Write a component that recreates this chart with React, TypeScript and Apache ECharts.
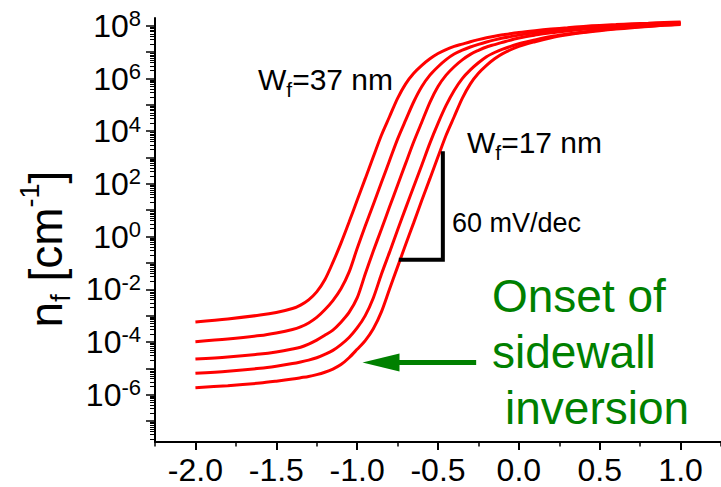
import React, { useEffect, useRef } from "react";
import * as echarts from "echarts";

// Gate voltage samples (V) shared by all curves
const gateVoltage = [
  -2.0, -1.8, -1.6, -1.5, -1.4, -1.35, -1.3, -1.25, -1.2, -1.15, -1.1, -1.05,
  -1.0, -0.95, -0.9, -0.85, -0.8, -0.75, -0.7, -0.65, -0.6, -0.55, -0.5, -0.45,
  -0.4, -0.35, -0.3, -0.25, -0.2, -0.15, -0.1, 0.0, 0.1, 0.2, 0.3, 0.4, 0.5,
  0.6, 0.7, 0.8, 0.9, 1.0,
];

// log10 of the fin electron density n_f (cm^-1) for each fin width
const nfExp37 = [
  -3.24, -3.13, -2.98, -2.88, -2.73, -2.6, -2.4, -2.1, -1.64, -0.98, -0.25, 0.55,
  1.38, 2.2, 3.03, 3.85, 4.55, 5.25, 5.8, 6.2, 6.5, 6.75, 6.95, 7.1, 7.22, 7.31,
  7.4, 7.48, 7.55, 7.61, 7.66,
  7.75, 7.82, 7.88, 7.93, 7.98, 8.02, 8.05, 8.08, 8.1, 8.13, 8.15,
];
const nfExp32 = [
  -3.99, -3.89, -3.76, -3.66, -3.53, -3.43, -3.28, -3.07, -2.78, -2.43, -1.98, -1.35,
  -0.45, 0.4, 1.22, 2.05, 2.88, 3.7, 4.42, 5.12, 5.7, 6.13, 6.45, 6.72, 6.93, 7.08,
  7.2, 7.3, 7.39, 7.47, 7.54,
  7.65, 7.74, 7.81, 7.87, 7.92, 7.97, 8.01, 8.04, 8.07, 8.1, 8.12,
];
const nfExp27 = [
  -4.65, -4.57, -4.46, -4.38, -4.27, -4.2, -4.08, -3.93, -3.75, -3.55, -3.25, -2.88,
  -2.33, -1.42, -0.55, 0.28, 1.12, 1.95, 2.78, 3.6, 4.35, 5.1, 5.7, 6.13, 6.45, 6.71,
  6.92, 7.07, 7.2, 7.29, 7.38,
  7.54, 7.65, 7.74, 7.81, 7.87, 7.92, 7.97, 8.01, 8.04, 8.07, 8.1,
];
const nfExp22 = [
  -5.19, -5.11, -5.0, -4.92, -4.82, -4.76, -4.69, -4.6, -4.47, -4.32, -4.1, -3.83,
  -3.47, -3.0, -2.33, -1.43, -0.6, 0.25, 1.08, 1.9, 2.72, 3.55, 4.3, 4.98, 5.55, 6.0,
  6.33, 6.6, 6.83, 6.99, 7.12,
  7.32, 7.47, 7.6, 7.69, 7.77, 7.84, 7.9, 7.95, 7.99, 8.03, 8.07,
];
const nfExp17 = [
  -5.74, -5.66, -5.56, -5.49, -5.41, -5.36, -5.31, -5.24, -5.15, -5.03, -4.86, -4.6,
  -4.28, -3.95, -3.5, -2.86, -2.0, -1.15, -0.3, 0.53, 1.38, 2.2, 3.03, 3.85, 4.55,
  5.25, 5.8, 6.2, 6.5, 6.75, 6.95,
  7.22, 7.4, 7.55, 7.66, 7.75, 7.82, 7.88, 7.93, 7.98, 8.02, 8.05,
];

const finWidths = [37, 32, 27, 22, 17];
const curves = [nfExp37, nfExp32, nfExp27, nfExp22, nfExp17];

// Axis ticks
const xTickValues = [-2.0, -1.5, -1.0, -0.5, 0.0, 0.5, 1.0];
const xMinorValues = [-2.25, -1.75, -1.25, -0.75, -0.25, 0.25, 0.75, 1.25];
const decadeTicks = [-7, -6, -5, -4, -3, -2, -1, 0, 1, 2, 3, 4, 5, 6, 7, 8];
const decadeLabels = [-6, -4, -2, 0, 2, 4, 6, 8];

// 60 mV/dec guide (V, log10 n_f)
const slopeGuideV = [-0.73, -0.47, -0.47];
const slopeGuideExp = [-0.88, -0.88, 3.16];

// Arrow marking the onset of sidewall inversion
const arrowTailV = -0.264;
const arrowTipV = -0.967;
const arrowExp = -4.78;

const X_MIN = -2.25;
const X_MAX = 1.25;
const Y_MIN = -7.8;
const Y_MAX = 8.3;

const FONT = "'Liberation Sans', Arial, Helvetica, sans-serif";
const RED = "#ff0000";
const GREEN = "#008000";

const minorLogTicks: number[] = [];
for (let d = -8; d <= 8; d++) {
  for (let k = 2; k <= 9; k++) {
    const v = d + Math.log10(k);
    if (v > Y_MIN && v < Y_MAX) minorLogTicks.push(v);
  }
}

// rich-text pieces: lowered subscript and raised superscript
const subStyle = (size: number, drop: number) => ({
  fontSize: size,
  fontFamily: FONT,
  fill: "#000",
  color: "#000",
  padding: [drop, 0, 0, 0],
});
const supStyle = (size: number, lift: number) => ({
  fontSize: size,
  fontFamily: FONT,
  fill: "#000",
  color: "#000",
  padding: [0, 0, lift, 0],
});

function buildOption(): echarts.EChartsOption {
  const curveSeries = curves.map((exps, ci) => ({
    name: `W_f=${finWidths[ci]} nm`,
    type: "line" as const,
    data: gateVoltage.map((v, i) => [v, exps[i]]),
    showSymbol: false,
    symbol: "none",
    smooth: 0.3,
    lineStyle: { color: RED, width: 3 },
    z: 3,
  }));

  const hiddenLine = { show: false, onZero: false };

  return {
    animation: false,
    backgroundColor: "#ffffff",
    grid: { left: 155, right: 0, top: 18, bottom: 45, containLabel: false },
    xAxis: [
      {
        type: "value",
        min: X_MIN,
        max: X_MAX,
        position: "bottom",
        axisLine: { onZero: false, lineStyle: { color: "#000", width: 2 } },
        axisTick: {
          show: true,
          customValues: xTickValues,
          length: 8,
          lineStyle: { color: "#000", width: 2 },
        },
        axisLabel: {
          customValues: xTickValues,
          formatter: (v: number) => v.toFixed(1),
          fontSize: 32,
          fontFamily: FONT,
          color: "#000",
          margin: 12,
        },
        splitLine: { show: false },
      },
      {
        type: "value",
        min: X_MIN,
        max: X_MAX,
        position: "bottom",
        offset: 0,
        axisLine: hiddenLine,
        axisTick: {
          show: true,
          customValues: xMinorValues,
          length: 4.5,
          lineStyle: { color: "#000", width: 1.5 },
        },
        axisLabel: { show: false },
        splitLine: { show: false },
      },
    ],
    yAxis: [
      {
        type: "value",
        min: Y_MIN,
        max: Y_MAX,
        position: "left",
        axisLine: { onZero: false, lineStyle: { color: "#000", width: 2 } },
        axisTick: {
          show: true,
          customValues: decadeTicks,
          length: 9,
          lineStyle: { color: "#000", width: 1.5 },
        },
        axisLabel: {
          customValues: decadeLabels,
          formatter: (v: number) => `{b|10}{s|${v}}`,
          margin: 14,
          rich: {
            b: { fontSize: 32, fontFamily: FONT, color: "#000" },
            s: supStyle(22, 14),
          },
        },
        splitLine: { show: false },
      },
      {
        type: "value",
        min: Y_MIN,
        max: Y_MAX,
        position: "left",
        offset: 0,
        axisLine: hiddenLine,
        axisTick: {
          show: true,
          customValues: minorLogTicks,
          length: 5,
          lineStyle: { color: "#000", width: 1 },
        },
        axisLabel: { show: false },
        splitLine: { show: false },
      },
    ],
    series: [
      ...curveSeries,
      {
        name: "slope guide",
        type: "line",
        data: slopeGuideV.map((v, i) => [v, slopeGuideExp[i]]),
        showSymbol: false,
        symbol: "none",
        lineStyle: { color: "#000", width: 4, join: "miter", cap: "square" },
        z: 4,
      },
      {
        name: "arrow shaft",
        type: "line",
        data: [
          [arrowTailV, arrowExp],
          [arrowTipV + 0.15, arrowExp],
        ],
        showSymbol: false,
        symbol: "none",
        lineStyle: { color: GREEN, width: 5, cap: "butt" },
        z: 4,
      },
      {
        name: "arrow head",
        type: "custom",
        data: [[arrowTipV, arrowExp]],
        renderItem: (_params: any, api: any) => {
          const tip = api.coord([api.value(0), api.value(1)]);
          return {
            type: "polygon",
            shape: {
              points: [
                [tip[0], tip[1]],
                [tip[0] + 37, tip[1] - 9],
                [tip[0] + 37, tip[1] + 9],
              ],
            },
            style: { fill: GREEN },
          };
        },
        z: 5,
      },
    ],
    graphic: [
      {
        type: "text",
        x: 46,
        y: 249,
        rotation: Math.PI / 2,
        style: {
          text: "{m|n}{sub|f}{m| [cm}{sup|-1}{m|]}",
          align: "center",
          verticalAlign: "middle",
          rich: {
            m: { fontSize: 46, fontFamily: FONT, fill: "#000" },
            sub: subStyle(27, 30),
            sup: supStyle(27, 32),
          },
        },
      },
      {
        type: "text",
        x: 258,
        y: 79,
        style: {
          text: "{m|W}{sub|f}{m|=37 nm}",
          align: "left",
          verticalAlign: "middle",
          rich: {
            m: { fontSize: 30, fontFamily: FONT, fill: "#000" },
            sub: subStyle(21, 20),
          },
        },
      },
      {
        type: "text",
        x: 467,
        y: 142,
        style: {
          text: "{m|W}{sub|f}{m|=17 nm}",
          align: "left",
          verticalAlign: "middle",
          rich: {
            m: { fontSize: 30, fontFamily: FONT, fill: "#000" },
            sub: subStyle(21, 20),
          },
        },
      },
      {
        type: "text",
        x: 452,
        y: 223,
        style: {
          text: "60 mV/dec",
          fontSize: 27,
          fontFamily: FONT,
          fill: "#000",
          align: "left",
          verticalAlign: "middle",
        },
      },
      {
        type: "text",
        x: 492,
        y: 296,
        style: {
          text: "Onset of",
          fontSize: 46,
          fontFamily: FONT,
          fill: GREEN,
          align: "left",
          verticalAlign: "middle",
        },
      },
      {
        type: "text",
        x: 492,
        y: 352,
        style: {
          text: "sidewall",
          fontSize: 46,
          fontFamily: FONT,
          fill: GREEN,
          align: "left",
          verticalAlign: "middle",
        },
      },
      {
        type: "text",
        x: 505,
        y: 408,
        style: {
          text: "inversion",
          fontSize: 46,
          fontFamily: FONT,
          fill: GREEN,
          align: "left",
          verticalAlign: "middle",
        },
      },
    ],
  } as echarts.EChartsOption;
}

export default function App() {
  const ref = useRef<HTMLDivElement>(null);

  useEffect(() => {
    if (!ref.current) return;
    const chart = echarts.init(ref.current, null, { renderer: "svg" });
    chart.setOption(buildOption());
    return () => {
      chart.dispose();
    };
  }, []);

  return (
    <div
      ref={ref}
      style={{
        position: "fixed",
        left: 0,
        top: 0,
        width: 721,
        height: 487,
        background: "#ffffff",
      }}
    />
  );
}
